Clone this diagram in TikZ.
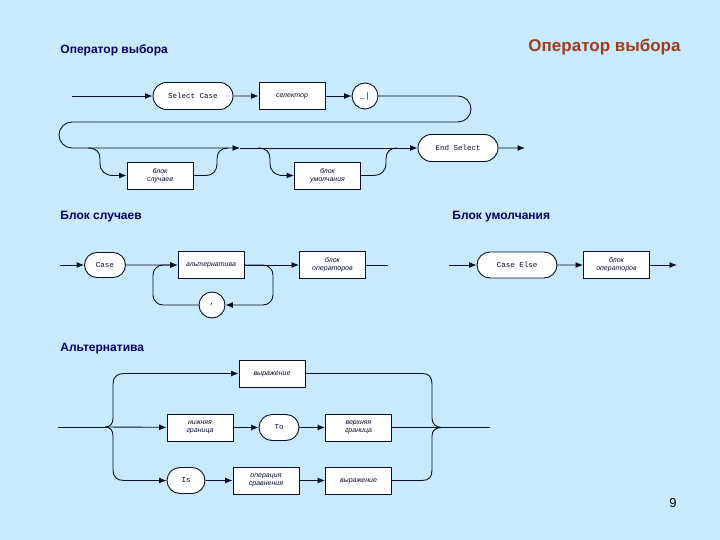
\documentclass[tikz,border=0pt]{standalone}
\usepackage{fontspec}
\setmainfont{Liberation Sans}
\newfontfamily\monof{Liberation Mono}
\usetikzlibrary{arrows.meta,shapes.misc}
\definecolor{bgc}{RGB}{200,234,252}
\definecolor{lnc}{RGB}{10,15,45}
\definecolor{headc}{RGB}{0,0,100}
\definecolor{titc}{RGB}{160,60,30}
\tikzset{
  every path/.style={line width=0.9pt},
  arr/.style={-{Latex[length=7.5pt,width=6pt]}},
  box/.style={draw=lnc, fill=white, rectangle, minimum width=66pt, minimum height=27pt, inner sep=0pt, align=center, font=\fontsize{7}{8}\selectfont\itshape},
  boxone/.style={draw=lnc, fill=white, rectangle, minimum width=66pt, minimum height=27pt, inner sep=0pt, text height=3.6pt, text depth=0pt, font=\fontsize{7}{8}\selectfont\itshape},
  rbox/.style={draw=lnc, fill=white, rounded rectangle, minimum width=80pt, minimum height=27pt, inner sep=0pt, font=\fontsize{7.5}{8}\selectfont\monof},
  circ/.style={draw=lnc, fill=white, circle, minimum size=26pt, inner sep=0pt, font=\fontsize{8}{8}\selectfont\monof},
  headb/.style={font=\fontsize{12}{14}\selectfont\bfseries, text=headc, inner sep=0pt, anchor=west},
}
\begin{document}
\begin{tikzpicture}[x=1pt,y=-1pt,color=lnc]
\fill[bgc] (0,0) rectangle (720,540);
\useasboundingbox (0,0) rectangle (720,540);

% headings
\node[headb] (h1) at (60,50) {Оператор выбора};
\node[font=\fontsize{17}{19}\selectfont\bfseries, text=titc, inner sep=0pt, anchor=east] (h0) at (681,47) {Оператор выбора};
\node[headb] (h2) at (60,217) {Блок случаев};
\node[headb] (h3) at (452,217) {Блок умолчания};
\node[headb] (h4) at (60,349) {Альтернатива};
\node[font=\fontsize{13}{14}\selectfont, inner sep=0pt, text=black] (pg) at (673,503) {9};

% ---------- top diagram ----------
\coordinate (s0) at (72,96);
\node[rbox] (sc) at (193,96) {Select Case};
\node[boxone] (sel) at (292,96) {селектор};
\node[circ] (cr) at (365,96) {\_|};
\coordinate (rt) at (458,96);
\coordinate (m1) at (240,148);
\node[rbox] (es) at (458,148) {End Select};
\coordinate (eo) at (525,148);

\draw[arr] (s0) -- (sc);
\draw[arr] (sc) -- (sel);
\draw[arr] (sel) -- (cr);
\draw[arr] (cr) -- (rt) arc[start angle=-90, end angle=90, radius=13]
  -- (72,122) arc[start angle=-90, end angle=-270, radius=13] -- (m1);
\draw[arr] (m1) -- (es);
\draw[arr] (es) -- (eo);

\node[box] (bs) at (160,175.5) {блок\\случаев};
\node[box] (bu) at (327.5,175.5) {блок\\умолчания};
\coordinate (b1s) at (88,148);
\coordinate (b1e) at (228,148);
\coordinate (b2s) at (258,148);
\coordinate (b2e) at (397,148);

\draw[arr] (b1s) .. controls (96,148) and (100,152) .. (100,159) -- (100,163)
  .. controls (100,171) and (105,175.5) .. (113,175.5) -- (bs);
\draw (bs) -- (206,175.5) .. controls (213,175.5) and (217,171) .. (217,163) -- (217,159)
  .. controls (217,152) and (221,148) .. (b1e);
\draw[arr] (b2s) .. controls (266,148) and (270,152) .. (270,159) -- (270,163)
  .. controls (270,171) and (275,175.5) .. (283,175.5) -- (bu);
\draw (bu) -- (374,175.5) .. controls (381,175.5) and (386,171) .. (386,163) -- (386,159)
  .. controls (386,152) and (390,148) .. (b2e);

% ---------- Блок случаев ----------
\coordinate (c0) at (60,265);
\node[rbox, minimum width=41pt, minimum height=25pt] (case) at (105,265) {Case};
\node[boxone] (alt) at (211,265) {альтернатива};
\node[box] (bo1) at (332.5,265) {блок\\операторов};
\node[circ] (cm) at (212,305) {,};
\coordinate (c1) at (388,265);

\draw[arr] (c0) -- (case);
\draw[arr] (case) -- (alt);
\draw[arr] (alt) -- (bo1);
\draw (bo1) -- (c1);
\draw[arr] (alt.east) -- (263,265) arc[start angle=-90, end angle=0, radius=10]
  -- (273,295) arc[start angle=0, end angle=90, radius=10] -- (cm);
\draw[arr] (cm) -- (163,305) arc[start angle=90, end angle=180, radius=10]
  -- (153,275) arc[start angle=180, end angle=270, radius=10] -- (alt.west);

% ---------- Блок умолчания ----------
\coordinate (d0) at (449,265);
\node[rbox, minimum width=80pt, minimum height=26pt] (ce) at (517,265) {Case Else};
\node[box] (bo2) at (616.5,265) {блок\\операторов};
\coordinate (d1) at (677,265);
\draw[arr] (d0) -- (ce);
\draw[arr] (ce) -- (bo2);
\draw[arr] (bo2) -- (d1);

% ---------- Альтернатива ----------
\coordinate (a0) at (58,427);
\coordinate (ab) at (105,427);
\node[boxone] (e1) at (272,373.5) {выражение};
\node[box] (nz) at (200,427.5) {нижняя\\граница};
\node[rbox, minimum width=40pt, minimum height=26pt] (to) at (279,427.5) {To};
\node[box] (vg) at (358.5,427.5) {верхняя\\граница};
\node[rbox, minimum width=38pt, minimum height=26pt] (is) at (186,480.5) {Is};
\node[box] (op) at (266,480.5) {операция\\сравнения};
\node[boxone] (e2) at (358.5,480.5) {выражение};
\coordinate (am) at (442,427.5);
\coordinate (a1) at (490,427.5);

\draw (a0) -- (ab);
\draw[arr] (ab) -- (nz);
\draw[arr] (nz) -- (to);
\draw[arr] (to) -- (vg);
\draw (vg) -- (am) -- (a1);
\draw[arr] (ab) .. controls (110,427) and (113,424) .. (113,418) -- (113,384)
  .. controls (113,377) and (117,373.5) .. (124,373.5) -- (e1);
\draw[arr] (ab) .. controls (110,427) and (113,430) .. (113,436) -- (113,470)
  .. controls (113,477) and (117,480.5) .. (124,480.5) -- (is);
\draw[arr] (is) -- (op);
\draw[arr] (op) -- (e2);
\draw (e1) -- (422,373.5) .. controls (429,373.5) and (432,377) .. (432,384) -- (432,418)
  .. controls (432,424) and (436,427.5) .. (am);
\draw (e2) -- (422,480.5) .. controls (429,480.5) and (432,477) .. (432,470) -- (432,436)
  .. controls (432,430) and (436,427.5) .. (am);
\end{tikzpicture}
\end{document}
